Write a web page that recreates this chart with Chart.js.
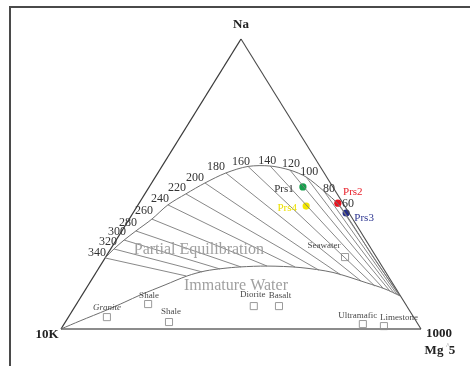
<!DOCTYPE html>
<html>
<head>
<meta charset="utf-8">
<script src="https://cdn.jsdelivr.net/npm/chart.js@4/dist/chart.umd.min.js"></script>
<style>
  html, body { margin: 0; padding: 0; background: #fff; overflow: hidden; }
  canvas { display: block; }
</style>
</head>
<body>
<canvas id="c" width="470" height="366"></canvas>
<script>
// Na/1000 – K/100 – Mg^0.5 ternary (Giggenbach). Every point is [Na, K, Mg] in %.

const isothermTemps = [340, 320, 300, 280, 260, 240, 220, 200, 180, 160, 140, 120, 100, 80, 60];

// upper ends of the isotherms (on the full equilibrium line)
const isothermTop = [
  [24.5, 75.5, 0.0], [27.6, 71.5, 0.9], [30.7, 67.2, 2.2], [33.8, 62.3, 3.9],
  [37.9, 55.8, 6.3], [42.8, 48.9, 8.3], [46.6, 42.0, 11.4], [50.3, 34.8, 14.8],
  [53.8, 27.3, 18.9], [56.0, 20.0, 23.9], [56.2, 13.8, 30.0], [54.8, 9.0, 36.2],
  [52.4, 5.7, 41.9], [47.6, 3.2, 49.3], [42.8, 1.4, 55.8]
];

// lower ends of the isotherms (on the immature water line)
const isothermBase = [
  [18.3, 56.1, 25.6], [19.7, 51.0, 29.3], [20.7, 45.5, 33.8], [21.4, 39.3, 39.3],
  [21.7, 31.9, 46.4], [21.4, 24.3, 54.3], [20.3, 18.2, 61.5], [18.6, 12.9, 68.5],
  [16.6, 8.4, 75.1], [14.8, 5.4, 79.8], [14.1, 3.5, 82.4], [13.1, 2.1, 84.8],
  [12.4, 1.3, 86.3], [11.9, 0.7, 87.4], [11.7, 0.3, 88.0]
];

const fullEquilibrium = [
  [24.5, 75.5, 0.0], [27.6, 71.5, 0.9], [30.7, 67.2, 2.2], [33.8, 62.3, 3.9],
  [37.9, 55.8, 6.3], [42.8, 48.9, 8.3], [46.6, 42.0, 11.4], [50.3, 34.8, 14.8],
  [53.8, 27.3, 18.9], [56.0, 20.0, 23.9], [56.2, 13.8, 30.0], [54.8, 9.0, 36.2],
  [52.4, 5.7, 41.9], [47.6, 3.2, 49.3], [42.8, 1.4, 55.8], [35.9, 1.0, 63.2],
  [25.5, 0.9, 73.6], [17.9, 0.5, 81.6], [11.4, 0.1, 88.5]
];

const immatureLine = [
  [0.0, 100.0, 0.0], [2.8, 93.3, 3.9], [6.6, 83.9, 9.5], [9.3, 77.6, 13.1],
  [11.7, 72.2, 16.1], [15.2, 63.5, 21.3], [18.3, 55.9, 25.9], [20.0, 50.0, 30.0],
  [20.9, 44.6, 34.6], [21.4, 39.6, 39.0], [21.7, 31.9, 46.4], [21.2, 23.0, 55.8],
  [19.5, 14.7, 65.8], [15.9, 7.1, 77.1], [13.8, 3.1, 83.1], [11.4, 0.1, 88.5]
];

const sampleNames = ['Prs1', 'Prs2', 'Prs3', 'Prs4'];
const sampleNa = [49.0, 43.4, 40.0, 42.4];
const sampleK  = [8.3, 1.4, 0.8, 10.7];
const sampleMg = [42.7, 55.2, 59.2, 46.9];

const rockNames = ['Granite', 'Shale', 'Shale', 'Diorite', 'Basalt', 'Ultramafic', 'Limestone', 'Seawater'];
const rockNa = [4.1, 8.6, 2.4, 7.9, 7.9, 1.7, 1.0, 24.8];
const rockK  = [85.2, 71.5, 68.8, 42.5, 35.5, 15.3, 9.8, 8.7];
const rockMg = [10.7, 19.9, 28.8, 49.6, 56.6, 83.0, 89.2, 66.5];

const regionNames = ['Partial Equilibration', 'Immature Water'];
const regionAt = [[27.2, 48.1, 24.7], [14.8, 44.0, 41.2]];

const vertices = [[100, 0, 0], [0, 100, 0], [0, 0, 100]];

// ---- styling -------------------------------------------------------------
const SERIF = '"Liberation Serif", "DejaVu Serif", serif';
const sampleColors = ['#16a04c', '#e8131f', '#232b8c', '#f2e600'];
const sampleTextColors = ['#333333', '#e8202a', '#2c3590', '#ece000'];
const sampleLabelShift = [[-19, 2], [15, -11], [18, 5], [-19, 2]];
const rockLabelShift = [[0, -9], [1, -8], [2, -10], [-1, -11], [1, -10], [-5, -8], [15, -8], [-21, -11]];
const isoLabelShift = [[-8, -5], [-6, -7], [-7, -8], [-8, -8], [-8, -8], [-8, -6], [-9, -6], [-10, -5],
                       [-10, -6], [-7, -5], [-3, -5], [1, -6], [3, -5], [5, -2], [9, -1]];

// ternary composition -> plane coordinates (0..100)
function toXY(p) {
  const [na, k, mg] = p;
  const s = na + k + mg;
  return { x: (mg + na / 2) / s * 100, y: na / s * 100 };
}

const lineDs = (pts, color, width, tension) => ({
  data: pts.map(toXY), showLine: true, borderColor: color, borderWidth: width,
  pointRadius: 0, tension: tension || 0, fill: false, clip: false
});

const datasets = [];
isothermTemps.forEach((t, i) => {
  datasets.push(lineDs([isothermTop[i], isothermBase[i]], '#7a7a7a', 0.9));
});
datasets.push(lineDs(fullEquilibrium, '#6e6e6e', 1, 0.3));
datasets.push(lineDs(immatureLine, '#6e6e6e', 1, 0.3));
datasets.push(lineDs([vertices[0], vertices[1]], '#3a3a3a', 1.3));
datasets.push(lineDs([vertices[0], vertices[2]], '#4a4a4a', 1.1));
datasets.push(lineDs([vertices[1], vertices[2]], '#8c8c8c', 2));
datasets.push({
  data: rockNames.map((n, i) => toXY([rockNa[i], rockK[i], rockMg[i]])),
  pointStyle: 'rect', pointRadius: 5, borderWidth: 1,
  borderColor: '#9a9a9a', backgroundColor: 'rgba(255,255,255,0)', clip: false
});
datasets.push({
  data: sampleNames.map((n, i) => toXY([sampleNa[i], sampleK[i], sampleMg[i]])),
  pointStyle: 'circle', pointRadius: 3.6, borderWidth: 0,
  backgroundColor: sampleColors, borderColor: sampleColors, clip: false
});

// outer frame and white background
const framePlugin = {
  id: 'frame',
  beforeDraw(chart) {
    const ctx = chart.ctx;
    ctx.save();
    ctx.fillStyle = '#ffffff';
    ctx.fillRect(0, 0, chart.width, chart.height);
    ctx.strokeStyle = '#4a4a4a';
    ctx.lineWidth = 2;
    ctx.beginPath();
    ctx.moveTo(10, chart.height + 2);
    ctx.lineTo(10, 7);
    ctx.lineTo(chart.width + 2, 7);
    ctx.stroke();
    ctx.restore();
  }
};

// all text: corner labels, region names, isotherm temperatures, rock and sample names
const textPlugin = {
  id: 'ternaryText',
  afterDatasetsDraw(chart) {
    const { ctx, scales: { x, y } } = chart;
    const at = p => { const q = toXY(p); return [x.getPixelForValue(q.x), y.getPixelForValue(q.y)]; };
    const put = (txt, px, py, font, color, align) => {
      ctx.font = font; ctx.fillStyle = color;
      ctx.textAlign = align || 'center'; ctx.textBaseline = 'middle';
      ctx.fillText(txt, px, py);
    };
    ctx.save();

    // region names
    regionNames.forEach((n, i) => {
      const [px, py] = at(regionAt[i]);
      put(n, px, py, '16px ' + SERIF, '#a0a0a0');
    });

    // isotherm temperatures
    isothermTemps.forEach((t, i) => {
      const [px, py] = at(isothermTop[i]);
      put(String(t), px + isoLabelShift[i][0], py + isoLabelShift[i][1], '12px ' + SERIF, '#333333');
    });

    // rock reference labels
    rockNames.forEach((n, i) => {
      const [px, py] = at([rockNa[i], rockK[i], rockMg[i]]);
      const f = n === 'Granite' ? 'italic 9px ' + SERIF : '9px ' + SERIF;
      put(n, px + rockLabelShift[i][0], py + rockLabelShift[i][1], f, '#4a4a4a');
    });

    // sample labels
    sampleNames.forEach((n, i) => {
      const [px, py] = at([sampleNa[i], sampleK[i], sampleMg[i]]);
      put(n, px + sampleLabelShift[i][0], py + sampleLabelShift[i][1], '11px ' + SERIF, sampleTextColors[i]);
    });

    // vertex labels
    const na = at(vertices[0]), k = at(vertices[1]), mg = at(vertices[2]);
    const bold = 'bold 13px ' + SERIF;
    put('Na', na[0], na[1] - 14, bold, '#222222');
    put('10K', k[0] - 14, k[1] + 6, bold, '#222222');
    put('1000', mg[0] + 18, mg[1] + 5, bold, '#222222');
    put('Mg', mg[0] + 13, mg[1] + 22, bold, '#222222');
    put('^', mg[0] + 27, mg[1] + 18, '8px ' + SERIF, '#999999');
    put('5', mg[0] + 31, mg[1] + 22, bold, '#222222');

    ctx.restore();
  }
};

new Chart(document.getElementById('c'), {
  type: 'scatter',
  data: { datasets },
  options: {
    responsive: false,
    animation: false,
    devicePixelRatio: 1,
    events: [],
    layout: { padding: { left: 61, right: 49, top: 39, bottom: 37 } },
    scales: {
      x: { type: 'linear', min: 0, max: 100, display: false },
      y: { type: 'linear', min: 0, max: 100, display: false }
    },
    plugins: { legend: { display: false }, tooltip: { enabled: false }, title: { display: false } }
  },
  plugins: [framePlugin, textPlugin]
});
</script>
</body>
</html>
